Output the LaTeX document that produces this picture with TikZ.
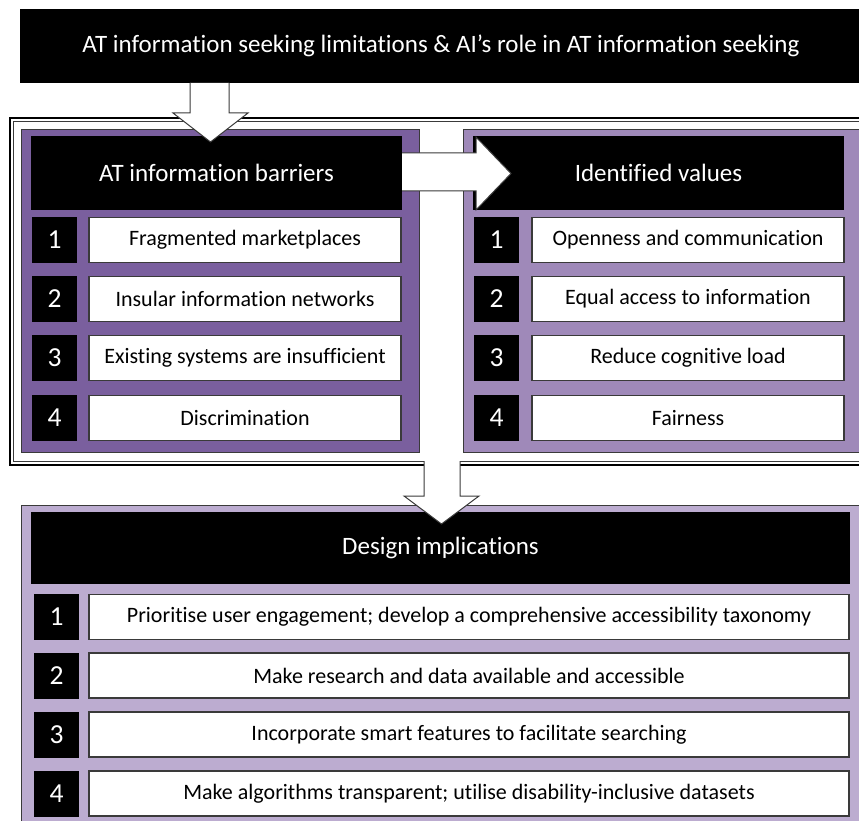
\documentclass[tikz,border=0pt]{standalone}
\usepackage{fontspec}
\setmainfont{Carlito}[Ligatures=NoCommon]
\definecolor{purpleA}{HTML}{7A5F9E}
\definecolor{purpleB}{HTML}{9F89B9}
\definecolor{purpleC}{HTML}{BCACD0}
\definecolor{edge}{HTML}{3A3A3A}
\tikzset{
  panel/.style={draw=edge, line width=0.9pt},
  headbox/.style={fill=black, text=white, inner sep=0pt, font=\fontsize{25}{30}\selectfont},
  numbox/.style={fill=black, text=white, inner sep=0pt, minimum width=45pt, minimum height=46pt, font=\fontsize{27.5}{32}\selectfont},
  itembox/.style={fill=white, draw=edge, line width=1.1pt, inner sep=0pt, minimum height=45pt, font=\fontsize{22}{26}\selectfont},
  blockarrow/.style={draw=edge, line width=1pt, line join=miter},
}
\begin{document}
\begin{tikzpicture}[x=1pt, y=-1pt]
\useasboundingbox (0,0) rectangle (859,821);
\clip (0,0) rectangle (859,821);

% title bar
\node[headbox, minimum width=842pt, minimum height=74pt]
  (title) at (441,46) {AT information seeking limitations \& AI’s role in AT information seeking};

% frame around the two upper panels
\draw[line width=2.6pt] (10,118) rectangle (880,465);
\draw[draw=edge, line width=0.8pt] (13.5,121.5) rectangle (880,461.5);

% left panel: barriers
\draw[panel, fill=purpleA] (21,129) rectangle (419,452);
\node[headbox, minimum width=371pt, minimum height=74pt] (barH) at (216.5,173) {AT information barriers};
\foreach \n/\y/\t in {1/240/Fragmented marketplaces,
                      2/299/Insular information networks,
                      3/358/Existing systems are insufficient,
                      4/418/Discrimination}{
  \node[numbox] (barN\n) at (54.5,\y) {\n};
  \node[itembox, minimum width=312pt] (barT\n) at (245,\y) {\t};
}

% right panel: values
\draw[panel, fill=purpleB] (463,129) rectangle (880,452);
\node[headbox, minimum width=371pt, minimum height=74pt] (valH) at (658.5,173) {Identified values};
\foreach \n/\y/\t in {1/240/Openness and communication,
                      2/299/Equal access to information,
                      3/358/Reduce cognitive load,
                      4/418/Fairness}{
  \node[numbox] (valN\n) at (496.5,\y) {\n};
  \node[itembox, minimum width=312pt] (valT\n) at (688,\y) {\t};
}

% bottom panel: design implications
\draw[panel, fill=purpleC] (21,505) rectangle (880,840);
\node[headbox, minimum width=819pt, minimum height=72pt] (desH) at (440.5,548) {Design implications};
\foreach \n/\y/\t in {1/617/Prioritise user engagement; develop a comprehensive accessibility taxonomy,
                      2/675.5/Make research and data available and accessible,
                      3/734.5/Incorporate smart features to facilitate searching,
                      4/793.5/Make algorithms transparent; utilise disability-inclusive datasets}{
  \node[numbox] (desN\n) at (56.5,\y) {\n};
  \node[itembox, minimum width=760pt] (desT\n) at (469,\y) {\t};
}

% block arrows
\fill[white] (190,83) -- (190,113) -- (173,113) -- (210.5,142) -- (248,113) -- (229,113) -- (229,83) -- cycle;
\draw[blockarrow] (190,83) -- (190,113) -- (173,113) -- (210.5,142) -- (248,113) -- (229,113) -- (229,83);

\fill[white] (402,153) -- (476,153) -- (476,137) -- (511,173.5) -- (476,210) -- (476,191) -- (402,191) -- cycle;
\draw[blockarrow] (402,153) -- (476,153) -- (476,137) -- (511,173.5) -- (476,210) -- (476,191) -- (402,191);

\fill[white] (424,461) -- (424,496) -- (404,496) -- (441.5,524) -- (479,496) -- (460,496) -- (460,461) -- cycle;
\draw[blockarrow] (424,461) -- (424,496) -- (404,496) -- (441.5,524) -- (479,496) -- (460,496) -- (460,461);
\end{tikzpicture}
\end{document}
